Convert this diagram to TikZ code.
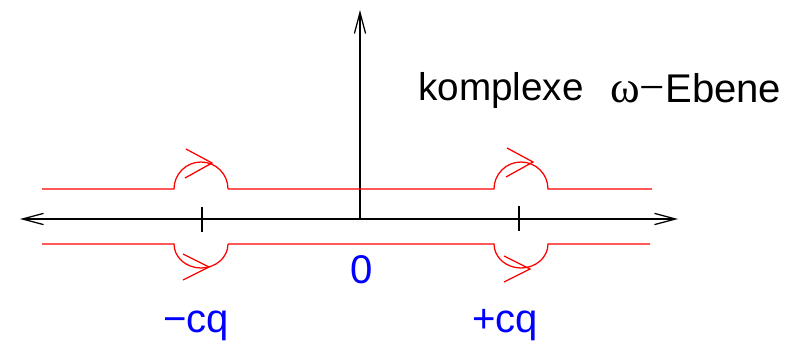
\documentclass[tikz,border=0pt]{standalone}
\usepackage{fontspec}
\setmainfont{Liberation Sans}
\newfontfamily\greekfont{Liberation Serif}
\usepackage{xcolor}
\usetikzlibrary{arrows.meta}

\begin{document}
\begin{tikzpicture}[x=0.025cm, y=-0.025cm,
    axis/.style={line width=0.9pt, -{Straight Barb[length=15pt, width=8pt]}},
    contour/.style={red, line width=0.9pt},
    label/.style={font=\fontsize{27.5}{32}\selectfont, inner sep=0pt},
    bluelabel/.style={label, blue, font=\fontsize{28.5}{32}\selectfont}]
    \useasboundingbox (0,0) rectangle (798,341);

    % Achsen
    \coordinate (O) at (360,219);
    \coordinate (mcq) at (201,219);
    \coordinate (pcq) at (520,219);
    \draw[axis] (O) -- (20,219);
    \draw[axis] (O) -- (678,219);
    \draw[axis] (O) -- (360,10);
    \draw[line width=0.9pt] (202,207) -- (202,232);
    \draw[line width=0.9pt] (519,206) -- (519,231);

    % Integrationsweg oberhalb
    \draw[contour] (42,189) -- (174,189)
        arc[start angle=180, end angle=360, x radius=27, y radius=27];
    \draw[contour] (228,189) -- (494,189)
        arc[start angle=180, end angle=360, x radius=27, y radius=27]
        -- (652,189);

    % Integrationsweg unterhalb
    \draw[contour] (42,244) -- (174,244)
        arc[start angle=180, end angle=0, x radius=27, y radius=24];
    \draw[contour] (228,244) -- (494,244)
        arc[start angle=180, end angle=0, x radius=27, y radius=24]
        -- (650,244);

    % Pfeilspitzen
    \draw[contour] (212,163) ++(-26,-14) -- ++(26,14) -- ++(-27,15);
    \draw[contour] (533,162) ++(-26,-14) -- ++(26,14) -- ++(-27,15);
    \draw[contour] (209,267) ++(-26,-13) -- ++(26,13) -- ++(-26,13);
    \draw[contour] (530,269) ++(-26,-13) -- ++(26,13) -- ++(-26,13);

    % Beschriftung
    \node[label, anchor=base west] (title) at (418,101) {komplexe};
    \node[label, anchor=base west] (plane) at (610,103)
        {{\greekfont\fontsize{32}{32}\selectfont ω−}\fontsize{28.5}{32}\selectfont Ebene};
    \node[bluelabel, anchor=base] (zero) at (362,283) {0};
    \node[bluelabel, anchor=base west] (minus) at (163,332) {−cq};
    \node[bluelabel, anchor=base west] (plus) at (472,332) {+cq};
\end{tikzpicture}
\end{document}
